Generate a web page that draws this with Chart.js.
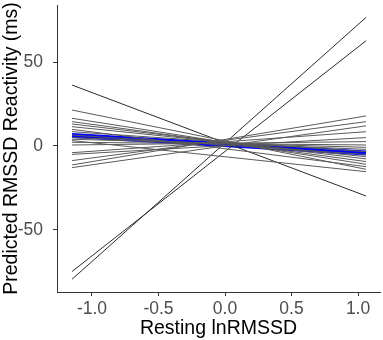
<!DOCTYPE html>
<html><head><meta charset="utf-8">
<script src="https://cdn.jsdelivr.net/npm/chart.js@4"></script>
<style>html,body{margin:0;padding:0;background:#fff}#w{width:383px;height:340px}</style>
</head><body><div id="w"><canvas id="c"></canvas></div>
<script>
const xEnds = [-1.15, 1.06];
const xTicks = [-1.0, -0.5, 0.0, 0.5, 1.0];
const yTicks = [-50, 0, 50];
// individual predicted lines: [value at left end, value at right end]
const greyStart = [21.4, 16.5, 14.5, 13.1, 11.5, 9.9, 8.5, 6.5, 4.0, 3.2, 2.2, 0.6, -4.0, -5.0, -8.7, -11.3, -12.9, 5.0];
const greyEnd   = [-13.9, -10.9, -9.3, -7.7, -6.4, -12.3, -3.4, -5.0, -0.8, -15.3, 0.6, 2.6, 8.5, 5.0, 14.5, 17.9, 12.0, -2.0];
const steepStart = [36.3, -79.4, -74.8];
const steepEnd   = [-29.8, 76.6, 62.7];
const meanStart = 6.3, meanEnd = -4.2;

const datasets = [];
greyStart.forEach((s,i)=>datasets.push({data:[{x:xEnds[0],y:s},{x:xEnds[1],y:greyEnd[i]}],borderColor:'#5a5a5a',borderWidth:1}));
steepStart.forEach((s,i)=>datasets.push({data:[{x:xEnds[0],y:s},{x:xEnds[1],y:steepEnd[i]}],borderColor:'#2a2a2a',borderWidth:1}));
datasets.push({data:[{x:xEnds[0],y:meanStart},{x:xEnds[1],y:meanEnd}],borderColor:'#0000ff',borderWidth:5});

const F = 'Liberation Sans, Arial';
new Chart(document.getElementById('c'),{
  type:'line',
  data:{datasets:datasets.map(d=>Object.assign(d,{pointRadius:0,fill:false,tension:0}))},
  options:{
    responsive:true,maintainAspectRatio:false,animation:false,
    layout:{padding:{top:5,right:3,left:0,bottom:0}},
    plugins:{legend:{display:false},tooltip:{enabled:false}},
    scales:{
      x:{type:'linear',min:-1.263,max:1.165,
        afterBuildTicks:s=>{s.ticks=xTicks.map(v=>({value:v}));},
        afterFit:s=>{s.height=48;s.paddingLeft=0;s.paddingRight=0;},
        ticks:{callback:v=>v.toFixed(1),color:'#4d4d4d',font:{family:F,size:17.5},padding:3,maxRotation:0},
        grid:{drawOnChartArea:false,drawTicks:true,tickLength:4,color:'#333'},
        border:{display:true,color:'#333',width:1},
        title:{display:true,text:'Resting lnRMSSD',color:'#000',font:{family:F,size:19.5},padding:{top:0,bottom:0}}
      },
      y:{type:'linear',min:-87,max:84,
        afterBuildTicks:s=>{s.ticks=yTicks.map(v=>({value:v}));},
        afterFit:s=>{s.width=57;s.paddingTop=0;s.paddingBottom=0;},
        ticks:{color:'#4d4d4d',font:{family:F,size:17.5},padding:10},
        grid:{drawOnChartArea:false,drawTicks:true,tickLength:4,color:'#333'},
        border:{display:true,color:'#333',width:1},
        title:{display:true,text:'Predicted RMSSD Reactivity (ms)',color:'#000',font:{family:F,size:19.5},padding:{top:0,bottom:0}}
      }
    }
  }
});
</script></body></html>
